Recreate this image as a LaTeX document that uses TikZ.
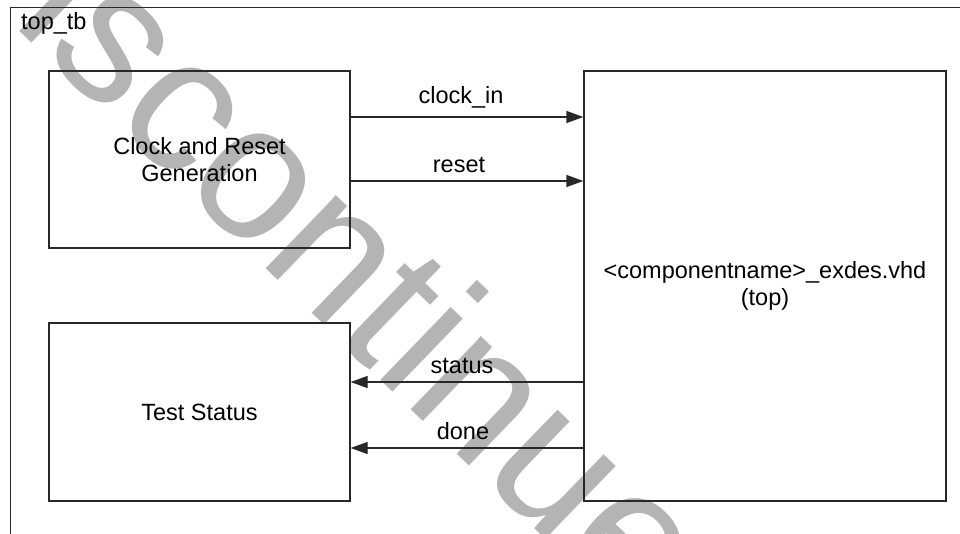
\documentclass[tikz,border=0pt]{standalone}
\usepackage{fontspec}
\setmainfont{Liberation Sans}
\usetikzlibrary{arrows.meta}
\definecolor{wm}{RGB}{180,180,180}
\definecolor{ln}{RGB}{40,40,40}
\tikzset{
  blk/.style={draw=ln, line width=1.3pt, minimum width=301pt, minimum height=177pt, align=center, inner sep=0pt, font=\fontsize{23.5}{27}\selectfont},
  sig/.style={draw=ln, line width=1.3pt, -{Triangle[length=17pt,width=12pt]}},
  lbl/.style={anchor=south, inner sep=0pt, yshift=8pt, font=\fontsize{23.5}{27}\selectfont},
}
\begin{document}
\begin{tikzpicture}[x=1pt,y=1pt]
\useasboundingbox (0,0) rectangle (960,-533);
\clip (0,0) rectangle (960,-533);
\fill[white] (0,0) rectangle (960,-533);
% watermark
\node[rotate=-44, anchor=base, inner sep=0pt, text=wm, font=\fontsize{192}{192}\selectfont] (wmk) at (310,-312) {Discontinued};
% outer frame
\node[draw=ln, line width=1.3pt, anchor=north west, minimum width=980pt, minimum height=560pt, inner sep=0pt] (frame) at (10,-7) {};
\node[anchor=north west, inner sep=0pt, font=\fontsize{23.5}{27}\selectfont] (ttl) at (21,-12) {top\_tb};
% blocks
\node[blk] (clk) at (199.5,-159.5) {Clock and Reset\\Generation};
\node[blk, minimum height=178pt] (ts) at (199.5,-412) {Test Status};
\node[blk, minimum width=362pt, minimum height=430pt] (top) at (765,-286) {\textless componentname\textgreater\_exdes.vhd\\(top)};
% connectors
\draw[sig] (clk.east |- 0,-117) -- node[lbl, xshift=-6pt]{clock\_in} (top.west |- 0,-117);
\draw[sig] (clk.east |- 0,-181) -- node[lbl, xshift=-8pt]{reset} (top.west |- 0,-181);
\draw[sig] (top.west |- 0,-382) -- node[lbl, xshift=-5pt]{status} (ts.east |- 0,-382);
\draw[sig] (top.west |- 0,-448) -- node[lbl, xshift=-4pt]{done} (ts.east |- 0,-448);
\end{tikzpicture}
\end{document}
